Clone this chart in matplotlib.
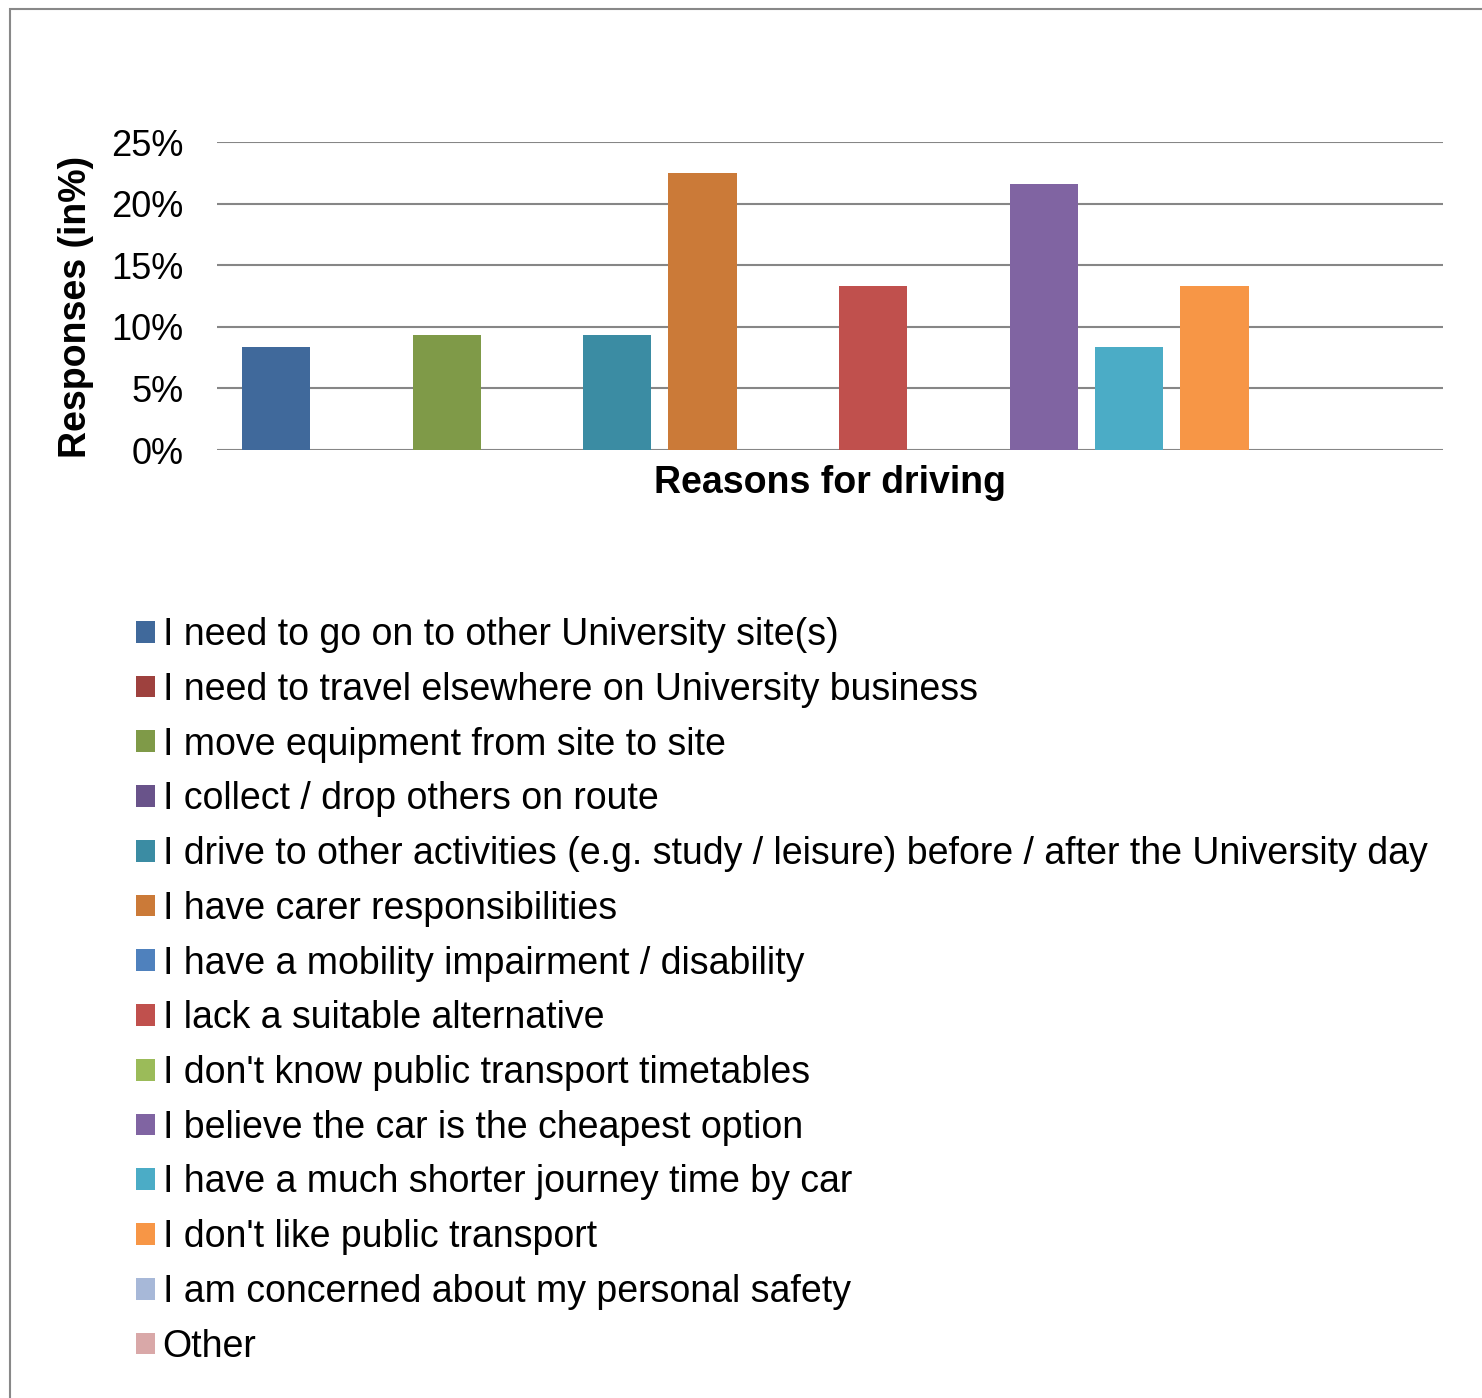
import matplotlib
matplotlib.use("Agg")
import matplotlib.pyplot as plt
from matplotlib.patches import Rectangle
from matplotlib.ticker import PercentFormatter

plt.rcParams["font.family"] = ["Liberation Sans", "DejaVu Sans"]

# 回答の区分（凡例の順）
reasons = [
    "I need to go on to other University site(s)",
    "I need to travel elsewhere on University business",
    "I move equipment from site to site",
    "I collect / drop others on route",
    "I drive to other activities (e.g. study / leisure) before / after the University day",
    "I have carer responsibilities",
    "I have a mobility impairment / disability",
    "I lack a suitable alternative",
    "I don't know public transport timetables",
    "I believe the car is the cheapest option",
    "I have a much shorter journey time by car",
    "I don't like public transport",
    "I am concerned about my personal safety",
    "Other",
]
# 回答率（%）
shares = [8.4, 0, 9.3, 0, 9.3, 22.5, 0, 13.3, 0, 21.6, 8.4, 13.3, 0, 0]
colors = [
    "#40699B", "#9E413E", "#7F9A48", "#69538A", "#3B8CA3", "#CB7A38",
    "#4F81BD", "#C0504D", "#9BBB59", "#8064A2", "#4BACC6", "#F79646",
    "#A7B8D8", "#D9A8A8",
]
yticks = [0, 5, 10, 15, 20, 25]

fig = plt.figure(figsize=(14.82, 13.98), dpi=100)
ax = fig.add_axes([217 / 1482, 1 - 450 / 1398, 1226 / 1482, 308 / 1398])

for i, (lab, v, c) in enumerate(zip(reasons, shares, colors)):
    ax.bar(i, v, width=0.8, color=c, label=lab, zorder=3)

ax.set_xlim(-0.693, 13.68)
ax.set_ylim(0, 25)
ax.set_yticks(yticks)
ax.yaxis.set_major_formatter(PercentFormatter(decimals=0))
ax.set_xticks([])
ax.tick_params(axis="y", length=0, pad=24, labelsize=26)
ax.grid(axis="y", color="#868686", linewidth=1.5, zorder=1)
for s in ax.spines.values():
    s.set_visible(False)
ax.set_axisbelow(True)

ax.set_xlabel("Reasons for driving", fontsize=27, fontweight="bold", labelpad=11)
ax.set_ylabel("Responses (in%)", fontsize=27, fontweight="bold")
ax.yaxis.set_label_coords(-0.1, 0.466)

fig.legend(loc="upper left", bbox_to_anchor=(136 / 1482, 1 - 617 / 1398),
           fontsize=27, frameon=False, handlelength=0.51, handleheight=0.51,
           handletextpad=0.2, labelspacing=0.50, borderaxespad=0, borderpad=0)

# 外枠
fig.patches.append(Rectangle((10 / 1482, -0.1), 1.2, 1.1 - 9 / 1398,
                             transform=fig.transFigure, fill=False,
                             edgecolor="#888888", linewidth=1.5))

fig.savefig("out.png", dpi=100, facecolor="white")
